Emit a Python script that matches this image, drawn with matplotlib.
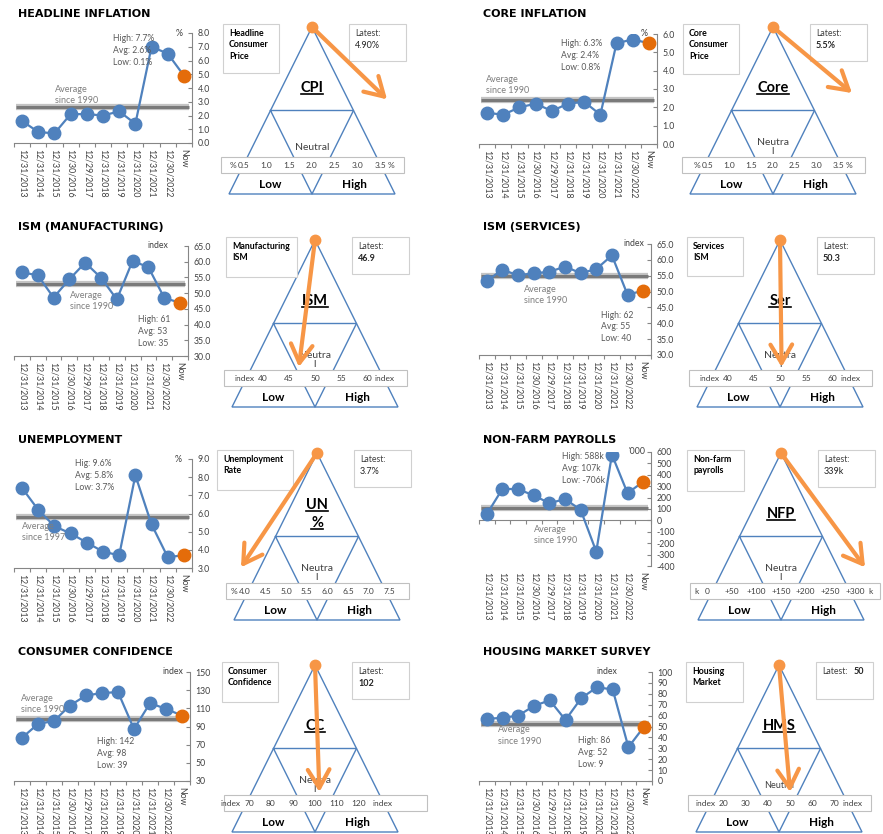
import numpy as np
import matplotlib
matplotlib.use('Agg')
import matplotlib.pyplot as plt
from matplotlib.patches import Polygon, Rectangle, FancyArrowPatch

plt.rcParams['font.family'] = ['Lato', 'DejaVu Sans']

W, H = 883, 834

dates = ['12/31/2013', '12/31/2014', '12/31/2015', '12/30/2016', '12/29/2017',
         '12/31/2018', '12/31/2019', '12/31/2020', '12/31/2021', '12/30/2022', 'Now']

cpi = [1.6, 0.8, 0.7, 2.1, 2.1, 2.0, 2.3, 1.4, 7.0, 6.5, 4.9]
core = [1.7, 1.6, 2.0, 2.2, 1.8, 2.2, 2.3, 1.6, 5.5, 5.7, 5.5]
ism_mfg = [56.6, 55.7, 48.6, 54.4, 59.7, 54.9, 48.0, 60.3, 58.2, 48.5, 46.9]
ism_srv = [53.4, 56.9, 55.1, 55.8, 56.2, 57.9, 55.8, 57.1, 61.4, 49.0, 50.3]
unemp = [7.4, 6.2, 5.3, 4.9, 4.4, 3.9, 3.7, 8.1, 5.4, 3.6, 3.7]
nfp = [55, 277, 274, 219, 151, 187, 93, -274, 577, 239, 339]
conf = [77.6, 92.8, 96.1, 113.1, 124.2, 126.8, 127.9, 87.2, 115.7, 109.4, 102]
hms = [57, 58, 60, 69, 74, 56, 76, 86, 84, 31, 50]

series = [cpi, core, ism_mfg, ism_srv, unemp, nfp, conf, hms]
titles = ['HEADLINE INFLATION', 'CORE INFLATION', 'ISM (MANUFACTURING)', 'ISM (SERVICES)',
          'UNEMPLOYMENT', 'NON-FARM PAYROLLS', 'CONSUMER CONFIDENCE', 'HOUSING MARKET SURVEY']
averages = [2.6, 2.4, 53, 55, 5.8, 107, 98, 52]
avg_labels = ['Average\nsince 1990'] * 4 + ['Average\nsince 1997'] + ['Average\nsince 1990'] * 3
stats = ['High: 7.7%\nAvg: 2.6%\nLow: 0.1%',
         'High: 6.3%\nAvg: 2.4%\nLow: 0.8%',
         'High: 61\nAvg: 53\nLow: 35',
         'High: 62\nAvg: 55\nLow: 40',
         'Hig: 9.6%\nAvg: 5.8%\nLow: 3.7%',
         'High: 588k\nAvg: 107k\nLow: -706k',
         'High: 142\nAvg: 98\nLow: 39',
         'High: 86\nAvg: 52\nLow: 9']
units = ['%', '%', 'index', 'index', '%', "'000", 'index', 'index']
y_lo = [0, 0, 30, 30, 3, -400, 30, 0]
y_hi = [8, 6, 65, 65, 9, 600, 150, 100]
y_step = [1, 1, 5, 5, 1, 100, 20, 10]
y_dec = [1, 1, 1, 1, 1, 0, 0, 0]

gauge_names = ['CPI', 'Core', 'ISM', 'Ser', 'UN\n%', 'NFP', 'CC', 'HMS']
gauge_desc = ['Headline\nConsumer\nPrice', 'Core\nConsumer\nPrice', 'Manufacturing\nISM',
              'Services\nISM', 'Unemployment\nRate', 'Non-farm\npayrolls',
              'Consumer\nConfidence', 'Housing\nMarket']
latest_txt = ['4.90%', '5.5%', '46.9', '50.3', '3.7%', '339k', '102', '50']
latest_bold = [False, True, True, True, False, False, True, True]
scale_ticks = [['0.5', '1.0', '1.5', '2.0', '2.5', '3.0', '3.5'],
               ['0.5', '1.0', '1.5', '2.0', '2.5', '3.0', '3.5'],
               ['40', '45', '50', '55', '60'],
               ['40', '45', '50', '55', '60'],
               ['4.0', '4.5', '5.0', '5.5', '6.0', '6.5', '7.0', '7.5'],
               ['0', '+50', '+100', '+150', '+200', '+250', '+300'],
               ['70', '80', '90', '100', '110', '120'],
               ['20', '30', '40', '50', '60', '70']]
scale_unit_l = ['%', '%', 'index', 'index', '%', 'k', 'index', 'index']
scale_unit_r = ['%', '%', 'index', 'index', '', 'k', 'index', 'index']
neutral_txt = ['Neutral'] + ['Neutra\nl'] * 6 + ['Neutral']

# layout (pixels)
row_y = [14, 14, 227, 227, 440, 440, 652, 652]
col_x = [0, 465] * 4
apex_x = [312, 773, 315, 780, 317, 781, 315, 779]
ax_top = [19, 20, 19, 17, 19, 12, 20, 20]
ax_bot = [129, 130, 129, 128, 128, 126, 129, 129]
ax_right = [192, 192, 188, 186, 192, 186, 190, 187]
stats_pos = [(0.556, 0.99), (0.46, 0.95), (0.71, 0.37), (0.71, 0.40),
             (0.34, 1.0), (0.48, 1.0), (0.47, 0.40), (0.57, 0.41)]
avg_pos = [(0.23, 0.53), (0.04, 0.63), (0.32, 0.59), (0.26, 0.63),
           (0.045, 0.42), (0.32, 0.36), (0.04, 0.80), (0.11, 0.51)]
unit_x = [0.95, 0.95, 0.89, 0.96, 0.94, 0.97, 0.96, 0.80]
scale_mid = [2.0, 2.0, 50, 50, 5.75, 150, 100, 45]
scale_px = [45.4, 43.4, 5.2, 5.25, 41.2, 0.494, 2.2, 2.22]
unit_gap_r = [8, 8, 8, 8, 8, 13, 14, 8]
arrow_frac = [0.57, 0.52, 1, 1, 0.9, 0.9, 1, 1]
desc_left = [-89, -90, -89, -93, -100, -94, -93, -93]
desc_w = [56, 56, 71, 56, 76, 57, 56, 57]
desc_h = [49, 50, 40, 39, 40, 41, 40, 40]
tick_box_r = [92, 92, 92, 92, 92, 99, 112, 92]

blue = '#4F81BD'
orange = '#E46C0A'
arrow_c = '#F79646'
grey = '#868686'

fig = plt.figure(figsize=(W / 100, H / 100), dpi=100)
ov = fig.add_axes([0, 0, 1, 1])
ov.set_xlim(0, W)
ov.set_ylim(H, 0)
ov.axis('off')

name_texts = []
x = np.arange(len(dates))

for i in range(8):
    ry = row_y[i]
    cx = col_x[i]
    ov.text(cx + 18, ry, titles[i], fontsize=8, fontweight='bold', family='DejaVu Sans',
            ha='left', va='center')

    # --- line chart
    L, R = cx + 14, cx + ax_right[i]
    T, B = ry + ax_top[i], ry + ax_bot[i]
    ax = fig.add_axes([L / W, 1 - B / H, (R - L) / W, (B - T) / H])
    ax.patch.set_alpha(0)
    vals = series[i]
    ax.plot(x, vals, color=blue, lw=1.6, zorder=3)
    ax.plot(x[:-1], vals[:-1], 'o', ms=9, color=blue, zorder=4)
    ax.plot(x[-1:], vals[-1:], 'o', ms=9, color=orange, zorder=5)
    ax.plot([-0.4, 10.3], [averages[i]] * 2, color='#c4c4c4', lw=4.5, zorder=2,
            solid_capstyle='butt')
    ax.plot([-0.4, 10.3], [averages[i]] * 2, color='#7a7a7a', lw=2.2, zorder=2,
            solid_capstyle='butt')

    ax.set_xlim(-0.5, 10.5)
    ax.set_ylim(y_lo[i], y_hi[i])
    yt = np.arange(y_lo[i], y_hi[i] + y_step[i] / 2, y_step[i])
    ax.set_yticks(yt)
    ax.set_yticklabels([f'{v:.{y_dec[i]}f}' for v in yt])
    ax.yaxis.tick_right()
    ax.tick_params(axis='y', direction='in', length=3, width=0.8, color=grey,
                   labelsize=6.3, labelcolor='#404040', pad=4)
    ax.set_xticks(x)
    ax.set_xticklabels(dates)
    ax.set_xticks(np.arange(-0.5, 11, 1), minor=True)
    xpad = 4
    if y_lo[i] < 0:
        # horizontal axis crosses at zero, labels stay at the bottom
        ax.spines['bottom'].set_position(('data', 0))
        frac = (0 - y_lo[i]) / (y_hi[i] - y_lo[i])
        xpad = frac * (B - T) * 0.72 + 4
    ax.tick_params(axis='x', which='major', length=0, pad=xpad, labelrotation=270,
                   labelsize=6.3, labelcolor='#404040')
    ax.tick_params(axis='x', which='minor', length=3, width=0.8, color=grey, direction='out')
    for s in ['top', 'left']:
        ax.spines[s].set_visible(False)
    for s in ['right', 'bottom']:
        ax.spines[s].set_color(grey)
        ax.spines[s].set_linewidth(0.8)

    ax.text(unit_x[i], 1.0, units[i], transform=ax.transAxes, ha='right', va='center',
            fontsize=6.3, color='#404040')
    ax.text(stats_pos[i][0], stats_pos[i][1], stats[i], transform=ax.transAxes,
            ha='left', va='top', fontsize=6.2, color='#595959', linespacing=1.4, zorder=6)
    ax.text(avg_pos[i][0], avg_pos[i][1], avg_labels[i], transform=ax.transAxes,
            ha='left', va='top', fontsize=6.5, color='#7f7f7f', linespacing=1.3, zorder=6)

    # --- gauge
    a = apex_x[i]
    top, base, hw = ry + 13, ry + 180, 83
    midy = (top + base) / 2
    ov.add_patch(Polygon([[a, top], [a - hw, base], [a + hw, base]], closed=True,
                         fill=False, ec=blue, lw=1.0, zorder=1))
    ov.plot([a - hw / 2, a + hw / 2, a, a - hw / 2], [midy, midy, base, midy],
            color=blue, lw=1.0, zorder=1)

    ov.add_patch(Rectangle((a - 91, ry + 143), 91 + tick_box_r[i], 16, fc='white',
                           ec='#c0c0c0', lw=0.8, zorder=3))
    tvals = [float(s) for s in scale_ticks[i]]
    pos = [a + (v - scale_mid[i]) * scale_px[i] for v in tvals]
    for p, s in zip(pos, scale_ticks[i]):
        ov.text(p, ry + 151, s, ha='center', va='center', fontsize=6, color='#404040', zorder=4)
    ov.text(pos[0] - 8, ry + 151, scale_unit_l[i], ha='right', va='center', fontsize=6,
            color='#404040', zorder=4)
    if scale_unit_r[i]:
        ov.text(pos[-1] + unit_gap_r[i], ry + 151, scale_unit_r[i], ha='left', va='center',
                fontsize=6, color='#404040', zorder=4)

    ov.text(a - 42, ry + 170, 'Low', ha='center', va='center', fontsize=8.5,
            fontweight='bold', zorder=4)
    ov.text(a + 42, ry + 170, 'High', ha='center', va='center', fontsize=8.5,
            fontweight='bold', zorder=4)
    nfs = 6.5 if i == 7 else 7.5
    ov.text(a, ry + 133, neutral_txt[i], ha='center', va='center', fontsize=nfs,
            color='#404040', linespacing=0.95, zorder=4)

    lines = gauge_names[i].split('\n')
    for k, ln in enumerate(lines):
        yk = ry + 74 + (k - (len(lines) - 1) / 2) * 18
        t = ov.text(a, yk, ln, ha='center', va='center', fontsize=10.5,
                    fontweight='bold', zorder=4)
        name_texts.append(t)

    dl = a + desc_left[i]
    ov.add_patch(Rectangle((dl, ry + 10), desc_w[i], desc_h[i], fc='white',
                           ec='#d0d0d0', lw=0.8, zorder=3))
    ov.text(dl + 6, ry + 15, gauge_desc[i], ha='left', va='top', fontsize=6.3,
            fontweight='bold', linespacing=1.35, zorder=4)

    ov.add_patch(Rectangle((a + 37, ry + 10), 57, 37, fc='white', ec='#d0d0d0',
                           lw=0.8, zorder=3))
    ov.text(a + 43, ry + 15, 'Latest:', ha='left', va='top', fontsize=6.3,
            color='#404040', zorder=4)
    if i == 7:
        lx, ly = a + 75, ry + 15
    else:
        lx, ly = a + 43, ry + 27
    ov.text(lx, ly, latest_txt[i], ha='left', va='top', fontsize=6.5,
            fontweight='bold' if latest_bold[i] else 'normal', color='#262626', zorder=4)

    # arrow from apex toward the latest reading on the scale
    v = series[i][-1]
    tx = a + (v - scale_mid[i]) * scale_px[i]
    ty = ry + 140
    f = arrow_frac[i]
    ex, ey = a + (tx - a) * f, top + (ty - top) * f
    ov.add_patch(FancyArrowPatch((a, top), (ex, ey),
                                 arrowstyle='->,head_length=1.1,head_width=0.65',
                                 mutation_scale=12, lw=3, color=arrow_c,
                                 shrinkA=0, shrinkB=0, zorder=6))
    ov.plot([a], [top], 'o', ms=7.5, color=arrow_c, zorder=7)

# underline the gauge names
fig.canvas.draw()
r = fig.canvas.get_renderer()
inv = ov.transData.inverted()
for t in name_texts:
    bb = t.get_window_extent(r)
    (x0, y0), (x1, _) = inv.transform([[bb.x0, bb.y0], [bb.x1, bb.y1]])
    ov.plot([x0, x1], [y0 - 1.5, y0 - 1.5], color='black', lw=1.2, zorder=5)

fig.savefig('out.png', dpi=100)
